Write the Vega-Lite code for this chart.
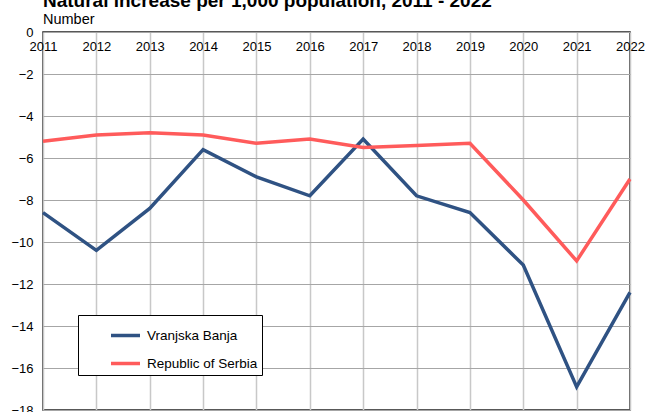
{
  "$schema": "https://vega.github.io/schema/vega-lite/v6.json",
  "width": 587,
  "height": 378,
  "autosize": {"type": "none"},
  "padding": {"left": 43, "top": 32, "right": 25, "bottom": 2},
  "background": "white",
  "title": {
    "text": "Natural increase per 1,000 population, 2011 - 2022",
    "subtitle": "Number",
    "anchor": "start",
    "frame": "group",
    "font": "Liberation Sans",
    "fontSize": 19,
    "fontWeight": "bold",
    "color": "black",
    "subtitleFont": "Liberation Sans",
    "subtitleFontSize": 14.5,
    "subtitleColor": "black",
    "subtitlePadding": 2,
    "offset": 0
  },
  "config": {
    "view": {"stroke": "#222", "strokeWidth": 1.5},
    "font": "Liberation Sans"
  },
  "data": {
    "values": [
      {"year": 2011, "series": "Vranjska Banja", "value": -8.6},
      {"year": 2012, "series": "Vranjska Banja", "value": -10.4},
      {"year": 2013, "series": "Vranjska Banja", "value": -8.4},
      {"year": 2014, "series": "Vranjska Banja", "value": -5.6},
      {"year": 2015, "series": "Vranjska Banja", "value": -6.9},
      {"year": 2016, "series": "Vranjska Banja", "value": -7.8},
      {"year": 2017, "series": "Vranjska Banja", "value": -5.1},
      {"year": 2018, "series": "Vranjska Banja", "value": -7.8},
      {"year": 2019, "series": "Vranjska Banja", "value": -8.6},
      {"year": 2020, "series": "Vranjska Banja", "value": -11.1},
      {"year": 2021, "series": "Vranjska Banja", "value": -16.9},
      {"year": 2022, "series": "Vranjska Banja", "value": -12.4},
      {"year": 2011, "series": "Republic of Serbia", "value": -5.2},
      {"year": 2012, "series": "Republic of Serbia", "value": -4.9},
      {"year": 2013, "series": "Republic of Serbia", "value": -4.8},
      {"year": 2014, "series": "Republic of Serbia", "value": -4.9},
      {"year": 2015, "series": "Republic of Serbia", "value": -5.3},
      {"year": 2016, "series": "Republic of Serbia", "value": -5.1},
      {"year": 2017, "series": "Republic of Serbia", "value": -5.5},
      {"year": 2018, "series": "Republic of Serbia", "value": -5.4},
      {"year": 2019, "series": "Republic of Serbia", "value": -5.3},
      {"year": 2020, "series": "Republic of Serbia", "value": -8.0},
      {"year": 2021, "series": "Republic of Serbia", "value": -10.9},
      {"year": 2022, "series": "Republic of Serbia", "value": -7.0}
    ]
  },
  "mark": {"type": "line", "strokeWidth": 3.5, "strokeJoin": "miter", "clip": false},
  "encoding": {
    "x": {
      "field": "year",
      "type": "quantitative",
      "scale": {"domain": [2011, 2022], "nice": false, "zero": false},
      "axis": {
        "orient": "top",
        "title": null,
        "values": [2011, 2012, 2013, 2014, 2015, 2016, 2017, 2018, 2019, 2020, 2021, 2022],
        "format": "d",
        "ticks": false,
        "domain": false,
        "labelPadding": -21,
        "labelFontSize": 13,
        "labelColor": "black",
        "labelFlush": false,
        "labelOverlap": false,
        "grid": true,
        "gridColor": "#c8c8c8",
        "gridWidth": 1.5
      }
    },
    "y": {
      "field": "value",
      "type": "quantitative",
      "scale": {"domain": [-18, 0], "nice": false},
      "axis": {
        "title": null,
        "values": [0, -2, -4, -6, -8, -10, -12, -14, -16, -18],
        "ticks": false,
        "domain": false,
        "labelPadding": 10,
        "labelFontSize": 13,
        "labelColor": "black",
        "grid": true,
        "gridColor": "#a6a6a6",
        "gridWidth": 1.2
      }
    },
    "color": {
      "field": "series",
      "type": "nominal",
      "scale": {"domain": ["Vranjska Banja", "Republic of Serbia"], "range": ["#2f5283", "#ff5b5b"]},
      "legend": {
        "title": null,
        "orient": "none",
        "legendX": 35,
        "legendY": 283,
        "direction": "vertical",
        "symbolType": "stroke",
        "symbolSize": 841,
        "symbolStrokeWidth": 3.5,
        "symbolOffset": 27,
        "labelFontSize": 13.5,
        "labelColor": "black",
        "labelOffset": 5,
        "rowPadding": 4,
        "padding": 4,
        "strokeColor": "black",
        "fillColor": "white",
        "labelLimit": 300
      }
    }
  }
}
